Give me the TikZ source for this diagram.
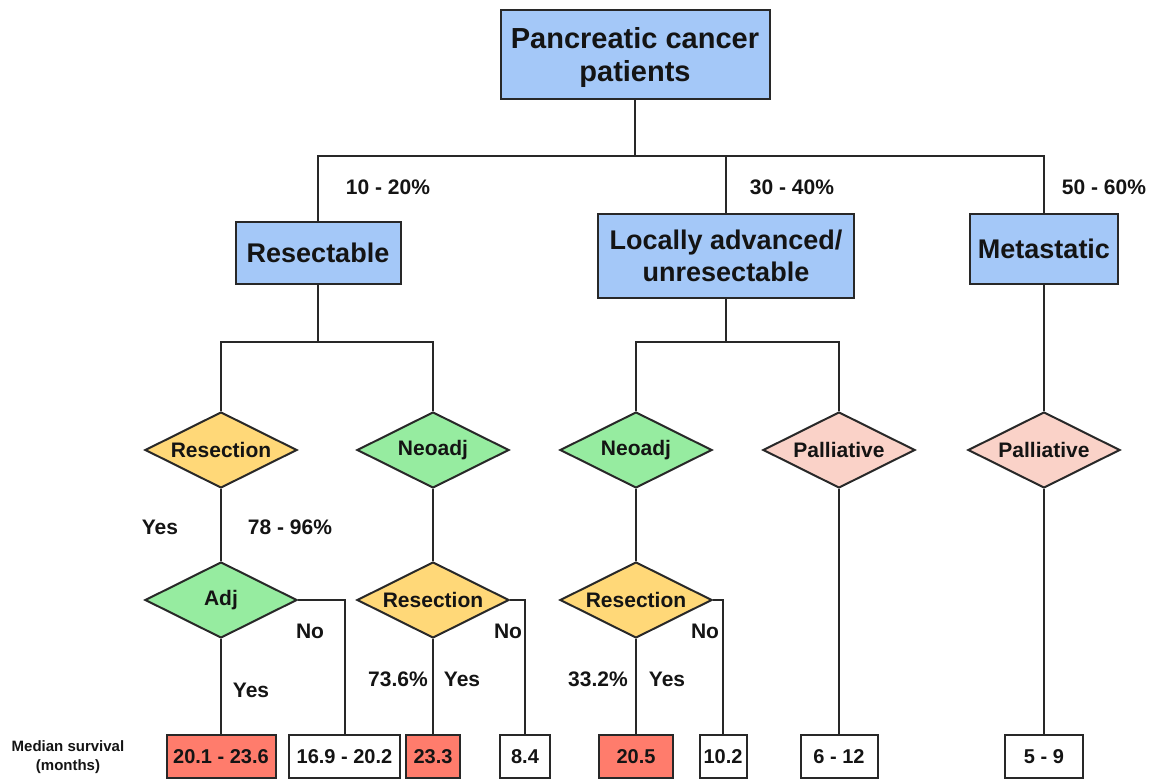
\documentclass[tikz,border=0pt]{standalone}
\usepackage{fontspec}
\setmainfont{Liberation Sans}
\usepackage{xcolor}
\definecolor{LineGray}{RGB}{40,40,40}
\definecolor{TextBlack}{RGB}{20,20,20}
\definecolor{FillBlue}{RGB}{164,200,248}
\definecolor{FillYellow}{RGB}{255,216,120}
\definecolor{FillGreen}{RGB}{150,236,160}
\definecolor{FillPink}{RGB}{250,210,200}
\definecolor{FillSalmon}{RGB}{255,124,108}
\usetikzlibrary{shapes.geometric, positioning, calc}
\tikzset{
  % Category box
  catbox/.style={
    rectangle, draw=LineGray, line width=1pt,
    fill=FillBlue, align=center, inner sep=2pt,
    text=TextBlack, font=\fontsize{13.5}{16}\selectfont\bfseries
  },
  % Decision diamond
  choice/.style={
    diamond, aspect=2, draw=LineGray, line width=1pt, inner sep=0pt,
    minimum width=76pt, minimum height=38pt,
    text=TextBlack, font=\fontsize{10.5}{12}\selectfont\bfseries
  },
  choice yellow/.style={choice, fill=FillYellow},
  choice green/.style={choice, fill=FillGreen},
  choice pink/.style={choice, fill=FillPink},
  % Survival boxes
  outbox/.style={
    rectangle, draw=LineGray, line width=1pt, fill=white,
    minimum height=21.5pt, inner sep=1pt,
    text=TextBlack, font=\fontsize{10}{12}\selectfont\bfseries
  },
  outbox red/.style={outbox, fill=FillSalmon},
  % Edge text
  tlabel/.style={text=TextBlack, font=\fontsize{10.5}{12}\selectfont\bfseries, inner sep=1pt},
  conn/.style={draw=LineGray, line width=1pt},
}

\begin{document}
\begin{tikzpicture}[x=0.5pt, y=-0.5pt]
  \useasboundingbox (0,0) rectangle (1175,780);

  % Top and category level
  \node[catbox, minimum width=134.5pt, minimum height=44.5pt,
        font=\fontsize{14.5}{16.5}\selectfont\bfseries] (top) at (635,55) {\rule{0pt}{13pt}Pancreatic cancer\\patients};
  \node[catbox, minimum width=82.5pt, minimum height=31pt] (res) at (318,253) {Resectable};
  \node[catbox, minimum width=128pt, minimum height=42pt] (loc) at (726,256) {Locally advanced/\\unresectable};
  \node[catbox, minimum width=74pt, minimum height=35pt] (met) at (1044,249) {Metastatic};

  \node[tlabel] (p1) at (388,187) {10 - 20\%};
  \node[tlabel] (p2) at (792,187) {30 - 40\%};
  \node[tlabel] (p3) at (1104,187) {50 - 60\%};

  % Decisions
  \node[choice yellow] (rsA) at (221,450) {Resection};
  \node[choice green] (naA) at (433,450) {Neoadj};
  \node[choice green] (naB) at (636,450) {Neoadj};
  \node[choice pink] (plA) at (839,450) {Palliative};
  \node[choice pink] (plB) at (1044,450) {Palliative};

  \node[choice green] (adj) at (221,600) {Adj};
  \node[choice yellow] (rsB) at (433,600) {Resection};
  \node[choice yellow] (rsC) at (636,600) {Resection};

  % Median survival
  \node[outbox red, minimum width=54.5pt] (o1) at (221,757) {20.1 - 23.6};
  \node[outbox, minimum width=55.5pt] (o2) at (344.5,757) {16.9 - 20.2};
  \node[outbox red, minimum width=27pt] (o3) at (433,757) {23.3};
  \node[outbox, minimum width=25pt] (o4) at (525,757) {8.4};
  \node[outbox red, minimum width=37pt] (o5) at (636,757) {20.5};
  \node[outbox, minimum width=23.5pt] (o6) at (723,757) {10.2};
  \node[outbox, minimum width=38.5pt] (o7) at (839,757) {6 - 12};
  \node[outbox, minimum width=39pt] (o8) at (1044,757) {5 - 9};

  \node[text=TextBlack, font=\fontsize{7.5}{9.5}\selectfont\bfseries, align=center] (ms) at (68,757) {Median survival\\(months)};

  % Edge texts
  \node[tlabel] (y1) at (160,527) {Yes};
  \node[tlabel] (q1) at (290,527) {78 - 96\%};
  \node[tlabel] (n1) at (310,631) {No};
  \node[tlabel] (y2) at (251,690) {Yes};
  \node[tlabel] (q2) at (398,679) {73.6\%};
  \node[tlabel] (y3) at (462,679) {Yes};
  \node[tlabel] (n2) at (508,631) {No};
  \node[tlabel] (q3) at (598,679) {33.2\%};
  \node[tlabel] (y4) at (667,679) {Yes};
  \node[tlabel] (n3) at (705,631) {No};

  % Connectors
  \coordinate (busA) at (0,156);
  \coordinate (busB) at (0,342);
  \draw[conn] (top.south) -- (top.south |- busA);
  \draw[conn] (res.north) -- (res.north |- busA) -- (met.north |- busA) -- (met.north);
  \draw[conn] (loc.north) -- (loc.north |- busA);

  \draw[conn] (res.south) -- (res.south |- busB);
  \draw[conn] (rsA.north) -- (rsA.north |- busB) -- (naA.north |- busB) -- (naA.north);
  \draw[conn] (loc.south) -- (loc.south |- busB);
  \draw[conn] (naB.north) -- (naB.north |- busB) -- (plA.north |- busB) -- (plA.north);
  \draw[conn] (met.south) -- (plB.north);

  \draw[conn] (rsA.south) -- (adj.north);
  \draw[conn] (naA.south) -- (rsB.north);
  \draw[conn] (naB.south) -- (rsC.north);

  \draw[conn] (adj.south) -- (o1.north);
  \draw[conn] (adj.east) -| (o2.north);
  \draw[conn] (rsB.south) -- (o3.north);
  \draw[conn] (rsB.east) -| (o4.north);
  \draw[conn] (rsC.south) -- (o5.north);
  \draw[conn] (rsC.east) -| (o6.north);
  \draw[conn] (plA.south) -- (o7.north);
  \draw[conn] (plB.south) -- (o8.north);
\end{tikzpicture}
\end{document}
